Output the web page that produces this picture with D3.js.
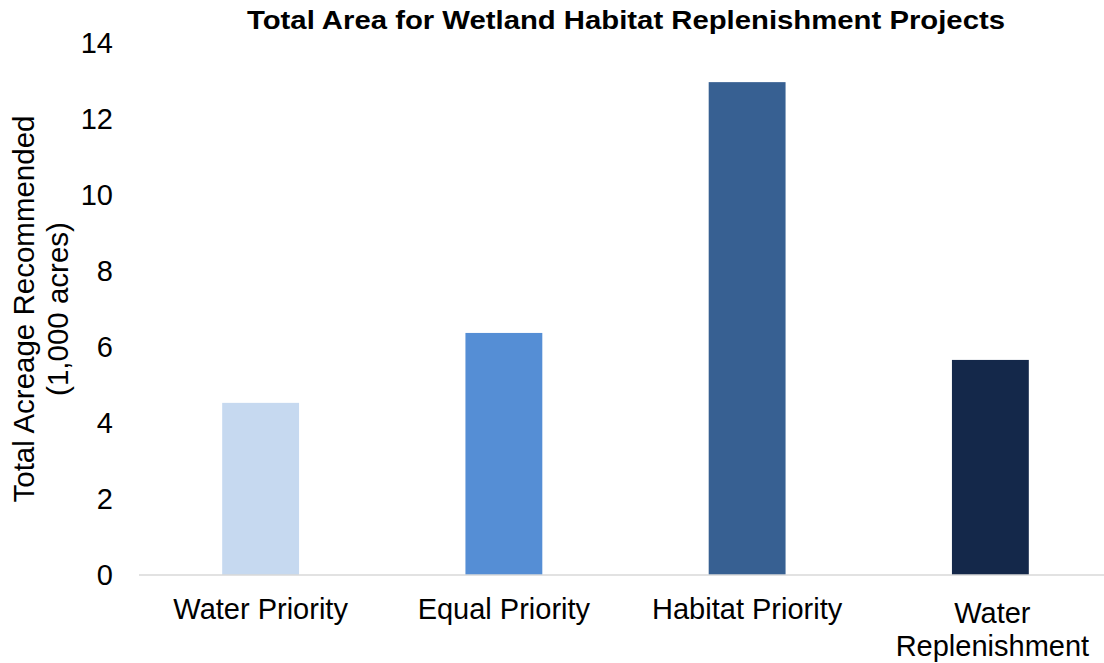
<!DOCTYPE html>
<html>
<head>
<meta charset="utf-8">
<script src="https://cdn.jsdelivr.net/npm/d3@7"></script>
<style>
  html, body { margin: 0; padding: 0; background: #fff; }
  svg { display: block; font-family: "Liberation Sans", Arial, sans-serif; }
</style>
</head>
<body>
<svg id="chart" width="1104" height="663"></svg>
<script>
// Scenario categories (each entry is a list of label lines)
const categories = [
  ["Water Priority"],
  ["Equal Priority"],
  ["Habitat Priority"],
  ["Water", "Replenishment"]
];
// Recommended acreage, thousands of acres
const acreage = [4.53, 6.37, 12.97, 5.66];
const barColors = ["#c6d9f0", "#558ed5", "#376092", "#14284a"];
const yTicks = [0, 2, 4, 6, 8, 10, 12, 14];

const svg = d3.select("#chart");
const W = 1104, H = 663;

const x = d3.scaleBand()
  .domain(d3.range(categories.length))
  .range([139, 1112])
  .paddingInner(0.684)
  .paddingOuter(0.342);

const y = d3.scaleLinear()
  .domain([0, 14])
  .range([575, 43]);

// Bars
svg.append("g")
  .selectAll("rect")
  .data(acreage)
  .join("rect")
  .attr("x", (d, i) => x(i))
  .attr("y", d => y(d))
  .attr("width", x.bandwidth())
  .attr("height", d => y(0) - y(d))
  .attr("fill", (d, i) => barColors[i]);

// Baseline
svg.append("line")
  .attr("x1", 139).attr("x2", W)
  .attr("y1", y(0)).attr("y2", y(0))
  .attr("stroke", "#d9d9d9")
  .attr("stroke-width", 1.5);

// Y tick labels
svg.append("g")
  .selectAll("text")
  .data(yTicks)
  .join("text")
  .attr("x", 113)
  .attr("y", d => y(d))
  .attr("dy", "0.36em")
  .attr("text-anchor", "end")
  .attr("font-size", 29)
  .attr("fill", "#000")
  .text(d => d);

// Category labels
const cat = svg.append("g")
  .selectAll("text")
  .data(categories)
  .join("text")
  .attr("text-anchor", "middle")
  .attr("font-size", 29)
  .attr("fill", "#000")
  .attr("transform", (d, i) => `translate(${x(i) + x.bandwidth() / 2 + (d.length > 1 ? 2 : 0)},${d.length > 1 ? 623 : 619})`);
cat.selectAll("tspan")
  .data(d => d)
  .join("tspan")
  .attr("x", 0)
  .attr("dy", (d, j) => j === 0 ? 0 : 33)
  .text(d => d);

// Y axis title
const yt = svg.append("text")
  .attr("transform", "translate(0,309) rotate(-90)")
  .attr("text-anchor", "middle")
  .attr("font-size", 29.5)
  .attr("fill", "#000");
yt.append("tspan").attr("x", 0).attr("y", 34).text("Total Acreage Recommended");
yt.append("tspan").attr("x", 0).attr("y", 68).text("(1,000 acres)");

// Chart title
svg.append("text")
  .attr("x", 626)
  .attr("y", 29)
  .attr("text-anchor", "middle")
  .attr("font-size", 26.5)
  .attr("font-weight", "bold")
  .attr("fill", "#000")
  .attr("textLength", 758)
  .attr("lengthAdjust", "spacingAndGlyphs")
  .text("Total Area for Wetland Habitat Replenishment Projects");
</script>
</body>
</html>
